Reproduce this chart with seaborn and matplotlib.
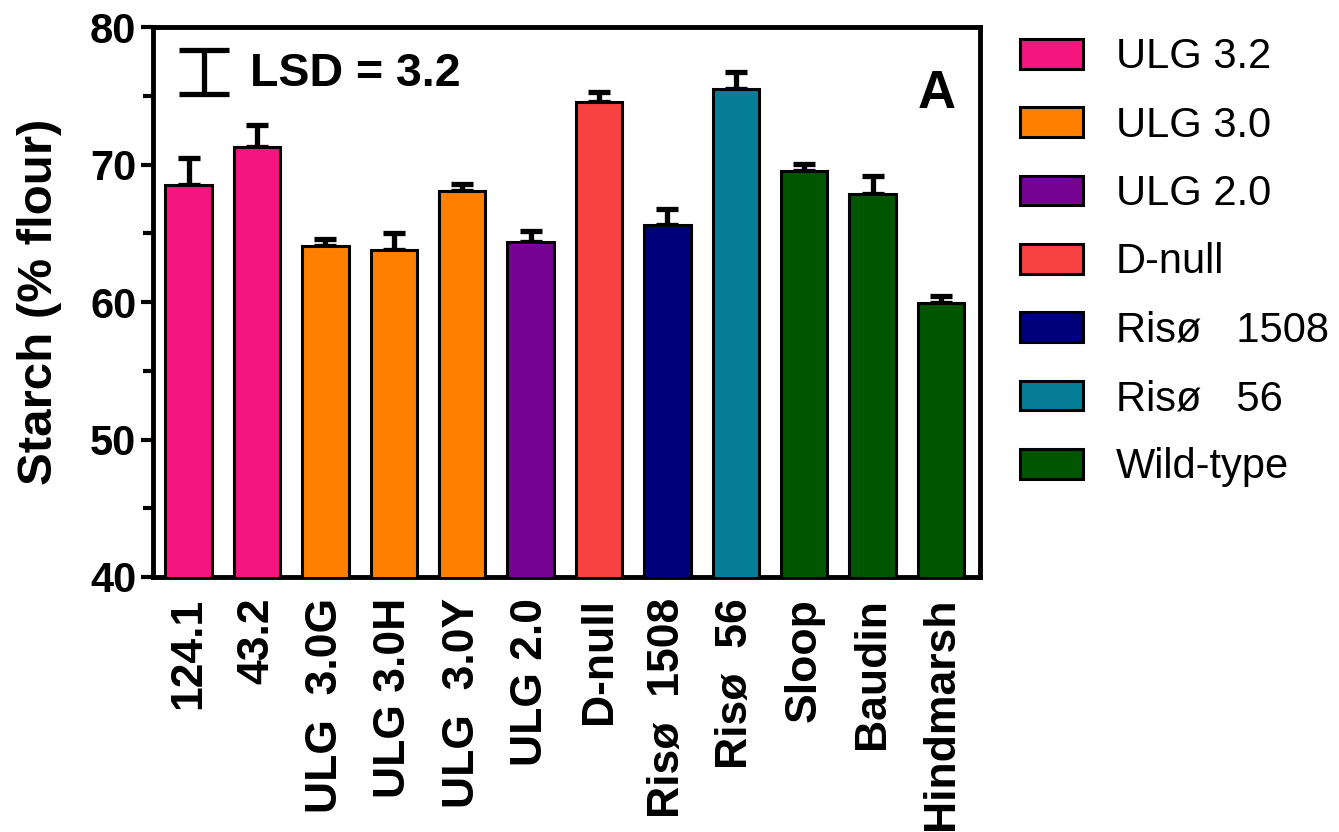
import matplotlib
matplotlib.use("Agg")
import matplotlib.pyplot as plt
import matplotlib.patches as mpatches
from matplotlib.ticker import MultipleLocator
import seaborn as sns
import pandas as pd

# data
lines = ["124.1", "43.2", "ULG  3.0G", "ULG 3.0H", "ULG  3.0Y", "ULG 2.0",
         "D-null", "Risø  1508", "Risø  56", "Sloop", "Baudin", "Hindmarsh"]
groups = ["ULG 3.2", "ULG 3.2", "ULG 3.0", "ULG 3.0", "ULG 3.0", "ULG 2.0",
          "D-null", "Risø   1508", "Risø   56", "Wild-type", "Wild-type", "Wild-type"]
starch = [68.5, 71.25, 64.1, 63.8, 68.05, 64.4, 74.55, 65.6, 75.5, 69.5, 67.85, 59.95]
err = [2.0, 1.65, 0.45, 1.2, 0.5, 0.75, 0.7, 1.15, 1.2, 0.55, 1.35, 0.5]
group_order = ["ULG 3.2", "ULG 3.0", "ULG 2.0", "D-null", "Risø   1508", "Risø   56", "Wild-type"]
group_colors = ["#F5157F", "#FF8000", "#770395", "#F84242", "#00007D", "#067E98", "#005500"]
lsd = 3.2

sns.set_style("ticks")
plt.rcParams["font.family"] = ["Liberation Sans", "DejaVu Sans"]
plt.rcParams["text.color"] = "black"
plt.rcParams["axes.labelcolor"] = "black"
plt.rcParams["xtick.color"] = "black"
plt.rcParams["ytick.color"] = "black"

df = pd.DataFrame({"line": lines, "group": groups, "starch": starch})
palette = dict(zip(group_order, group_colors))

fig = plt.figure(figsize=(13.39, 8.32), dpi=100)
ax = fig.add_axes([0.1143, 0.3065, 0.6176, 0.661])

sns.barplot(data=df, x="line", y="starch", hue="group", hue_order=group_order,
            palette=palette, dodge=False, width=0.68, edgecolor="black",
            linewidth=2.2, saturation=1, legend=False, ax=ax, zorder=3)

xs = list(range(len(lines)))
ax.errorbar(xs, starch, yerr=[[0] * len(err), err], fmt="none", ecolor="black",
            elinewidth=3.8, capsize=8, capthick=3.8, zorder=2)

# LSD marker
ax.errorbar([0.22], [76.7], yerr=[lsd / 2], fmt="none", ecolor="black",
            elinewidth=3.8, capsize=18, capthick=3.8, zorder=4)
ax.text(0.9, 76.6, "LSD = 3.2", fontsize=33.5, fontweight="bold", va="center", ha="left")
ax.text(11.22, 75.1, "A", fontsize=38, fontweight="bold", va="center", ha="right")

ax.set_ylim(40, 80)
ax.set_xlim(-0.52, 11.57)
ax.yaxis.set_major_locator(MultipleLocator(10))
ax.yaxis.set_minor_locator(MultipleLocator(5))
ax.set_xlabel("")
ax.set_ylabel("Starch (% flour)", fontsize=35.5, fontweight="bold", labelpad=20)
ax.tick_params(axis="y", which="major", labelsize=30, width=3, length=9, direction="out", pad=3)
ax.tick_params(axis="y", which="minor", width=3, length=7, direction="out")
ax.tick_params(axis="x", length=0, labelsize=32, pad=15)
for lab in ax.get_yticklabels():
    lab.set_fontweight("bold")
ax.set_xticks(xs)
ax.set_xticklabels(lines, rotation=90, fontweight="bold", va="top", ha="center")
for sp in ax.spines.values():
    sp.set_visible(True)
    sp.set_linewidth(3.5)
    sp.set_color("black")

handles = [mpatches.Patch(facecolor=c, edgecolor="black", linewidth=2.2, label=g)
           for g, c in zip(group_order, group_colors)]
fig.legend(handles=handles, loc="upper left", bbox_to_anchor=(0.7495, 0.975),
           frameon=False, fontsize=30, handlelength=1.5, handleheight=0.72,
           handletextpad=0.8, labelspacing=0.68, borderaxespad=0)

fig.savefig("out.png", dpi=100)
